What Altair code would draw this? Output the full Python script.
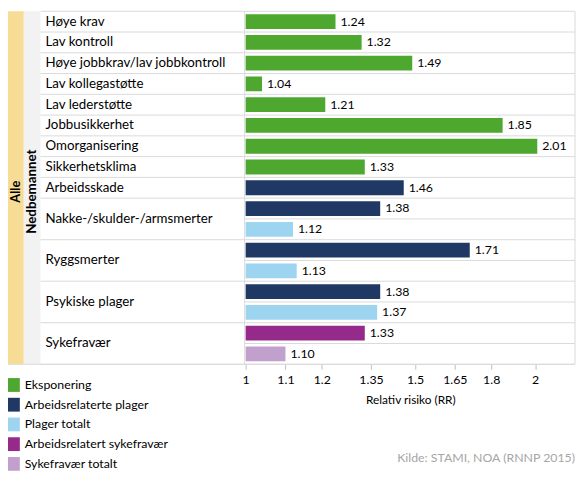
import altair as alt
import pandas as pd

# ---------------- data ----------------
series_names = ["Eksponering", "Arbeidsrelaterte plager", "Plager totalt",
                "Arbeidsrelatert sykefravær", "Sykefravær totalt"]
series_colors = ["#4ea72e", "#203864", "#9dd4f0", "#962a8b", "#c1a0cd"]

categories = ["Høye krav", "Lav kontroll", "Høye jobbkrav/lav jobbkontroll",
              "Lav kollegastøtte", "Lav lederstøtte", "Jobbusikkerhet",
              "Omorganisering", "Sikkerhetsklima", "Arbeidsskade",
              "Nakke-/skulder-/armsmerter", "Ryggsmerter", "Psykiske plager",
              "Sykefravær"]
category_rows = [1, 1, 1, 1, 1, 1, 1, 1, 1, 2, 2, 2, 2]

row_series = (["Eksponering"] * 8
              + ["Arbeidsrelaterte plager",
                 "Arbeidsrelaterte plager", "Plager totalt",
                 "Arbeidsrelaterte plager", "Plager totalt",
                 "Arbeidsrelaterte plager", "Plager totalt",
                 "Arbeidsrelatert sykefravær", "Sykefravær totalt"])
row_values = [1.24, 1.32, 1.49, 1.04, 1.21, 1.85, 2.01, 1.33,
              1.46, 1.38, 1.12, 1.71, 1.13, 1.38, 1.37, 1.33, 1.10]

tick_values = [1, 1.1, 1.2, 1.35, 1.5, 1.65, 1.8, 2]
x_title = "Relativ risiko (RR)"
source_text = "Kilde: STAMI, NOA (RNNP 2015)"
band_outer = "Alle"
band_inner = "Nedbemannet"

# ---------------- layout ----------------
W, H = 576, 358
N = len(row_values)
FONT = "Lato"
GRID = "#d9d9d9"

bars = pd.DataFrame({
    "center": [i + 0.5 for i in range(N)],
    "value": row_values,
    "series": row_series,
})

bounds = [0]
for n in category_rows:
    bounds.append(bounds[-1] + n)
cats = pd.DataFrame({
    "label": categories,
    "center": [(bounds[i] + bounds[i + 1]) / 2 for i in range(len(categories))],
})
row_lines = pd.DataFrame({"b": list(range(N + 1))})
group_lines = pd.DataFrame({"b": bounds})
one = pd.DataFrame({"k": [0]})

yscale = alt.Scale(domain=[0, N], range=[0, H], zero=False, nice=False, padding=0)
xscale = alt.Scale(type="log", domain=[1, 2.2], range=[241, W - 1], nice=False)
xaxis = alt.Axis(values=tick_values, labelExpr="toString(datum.value)",
                 grid=False, domain=False, tickColor="#bfbfbf", tickSize=5,
                 labelFont=FONT, labelFontSize=12.5, labelColor="black",
                 labelPadding=4, labelFlush=False, labelOverlap=False,
                 title=x_title, titleFont=FONT, titleFontSize=12,
                 titleFontWeight="normal", titleColor="black", titlePadding=9)

bg_outer = alt.Chart(one).mark_rect(color="#f7dc95").encode(
    x=alt.value(0), x2=alt.value(16), y=alt.value(0), y2=alt.value(H))
bg_inner = alt.Chart(one).mark_rect(color="#f2f2f2").encode(
    x=alt.value(16), x2=alt.value(33), y=alt.value(0), y2=alt.value(H))

lines_bar = alt.Chart(row_lines).mark_rule(color=GRID, strokeWidth=1).encode(
    y=alt.Y("b:Q", scale=yscale, axis=None), x=alt.value(240), x2=alt.value(W - 1))
lines_lab = alt.Chart(group_lines).mark_rule(color=GRID, strokeWidth=1).encode(
    y=alt.Y("b:Q", scale=yscale, axis=None), x=alt.value(33), x2=alt.value(240))
line_bottom = alt.Chart(one).mark_rule(color=GRID, strokeWidth=1).encode(
    y=alt.value(H), x=alt.value(0), x2=alt.value(W - 1))
line_v1 = alt.Chart(one).mark_rule(color=GRID, strokeWidth=1).encode(
    x=alt.value(240), y=alt.value(0), y2=alt.value(H))
line_v2 = alt.Chart(one).mark_rule(color=GRID, strokeWidth=1).encode(
    x=alt.value(W - 1), y=alt.value(0), y2=alt.value(H))

bar_layer = alt.Chart(bars).mark_bar(size=15).encode(
    y=alt.Y("center:Q", scale=yscale, axis=None),
    x=alt.X("value:Q", scale=xscale, axis=xaxis),
    x2=alt.datum(1),
    color=alt.Color("series:N",
                    scale=alt.Scale(domain=series_names, range=series_colors),
                    legend=alt.Legend(title=None, orient="none", legendX=-2,
                                      legendY=372, symbolType="square",
                                      symbolSize=196, symbolStrokeWidth=0,
                                      symbolOpacity=1, labelFont=FONT,
                                      labelFontSize=12.5, labelColor="black",
                                      rowPadding=6, labelOffset=5, padding=0)),
)

value_text = alt.Chart(bars).mark_text(
    align="left", baseline="middle", dx=5, font=FONT, fontSize=12.5,
    color="black").encode(
    y=alt.Y("center:Q", scale=yscale, axis=None),
    x=alt.X("value:Q", scale=xscale, axis=xaxis),
    text=alt.Text("value:Q", format=".2f"),
)

cat_text = alt.Chart(cats).mark_text(
    align="left", baseline="middle", font=FONT, fontSize=13.5,
    color="black").encode(
    y=alt.Y("center:Q", scale=yscale, axis=None),
    x=alt.value(38),
    text="label:N",
)

outer_text = alt.Chart(one).mark_text(
    angle=270, align="center", baseline="middle", font=FONT, fontSize=13,
    fontWeight="bold", color="black", text=band_outer).encode(
    x=alt.value(8.5), y=alt.value(H / 2 + 4))
inner_text = alt.Chart(one).mark_text(
    angle=270, align="center", baseline="middle", font=FONT, fontSize=13.5,
    fontWeight="bold", color="black", text=band_inner).encode(
    x=alt.value(24.5), y=alt.value(H / 2 + 4))

src = alt.Chart(one).mark_text(
    align="right", baseline="middle", font=FONT, fontSize=12.5,
    color="#a6a6a6", text=source_text).encode(
    x=alt.value(W - 1), y=alt.value(453))

chart = alt.layer(
    bg_outer, bg_inner, lines_bar, lines_lab, line_bottom, line_v1, line_v2,
    bar_layer, value_text, cat_text, outer_text, inner_text, src,
).properties(
    width=W, height=H,
    autosize=alt.AutoSizeParams(type="none"),
    padding={"left": 0, "top": 0, "right": 0, "bottom": 110},
).configure_view(stroke=None)

chart.save("out.html", embed_options={"renderer": "svg", "actions": False})
